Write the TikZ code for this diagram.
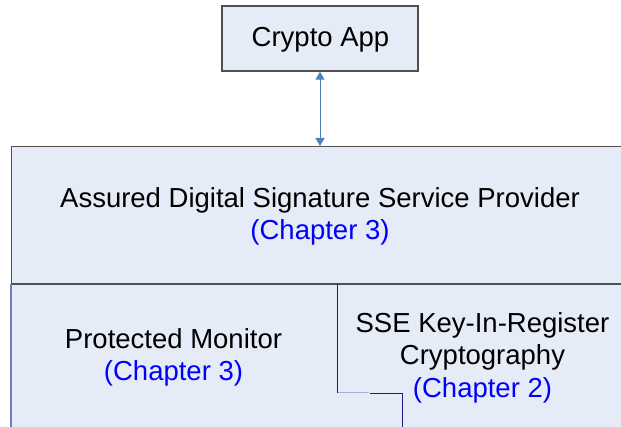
\documentclass[tikz,border=0pt]{standalone}
\usepackage{fontspec}
\setmainfont{Liberation Sans}
\usetikzlibrary{arrows.meta}
\definecolor{boxfill}{RGB}{230,236,247}
\definecolor{boxline}{RGB}{80,80,80}
\definecolor{arrowblue}{RGB}{79,129,189}
\definecolor{chapblue}{RGB}{0,0,255}
\definecolor{navyline}{RGB}{30,30,130}
\definecolor{lightnavy}{RGB}{165,175,225}
\definecolor{edgeblue}{RGB}{120,120,200}
\begin{document}
\begin{tikzpicture}[x=1pt,y=-1pt,
  lbl/.style={align=center, font=\fontsize{27.5}{32.5}\selectfont, inner sep=0pt, anchor=base},
  boxstyle/.style={draw=boxline, fill=boxfill, line width=1.4pt, inner sep=0pt},
  chap/.style={text=chapblue}]
\useasboundingbox (0,0) rectangle (621,427);
\clip (0,0) rectangle (621,427);
\fill[white] (0,0) rectangle (621,427);
% boxes
\node[boxstyle, minimum width=196pt, minimum height=65pt] (app) at (320,38.5) {};
\node[boxstyle, anchor=north west, minimum width=660pt, minimum height=320pt] (sp) at (11,146) {};
\coordinate (divL) at (11,284);
\coordinate (divR) at (680,284);
\draw[boxline, line width=1.4pt] (divL) -- (divR);
\coordinate (edgeB) at (11,440);
\draw[edgeblue, line width=1.4pt] (divL) -- (edgeB);
% partition between lower modules
\coordinate (p1) at (337.5,284);
\coordinate (p2) at (337.5,392.5);
\coordinate (p3) at (369,392.5);
\coordinate (p4) at (370,393.5);
\coordinate (p5) at (402.5,393.5);
\coordinate (p6) at (402.5,440);
\draw[navyline, line width=0.9pt] (p1) -- (p2);
\draw[lightnavy, line width=0.9pt] (p2) -- (p3);
\draw[navyline, line width=0.9pt] (p4) -- (p5) -- (p6);
% arrow
\draw[arrowblue, line width=0.9pt, {Triangle[length=8pt,width=9pt]}-{Triangle[length=8pt,width=9pt]}] (app.south) -- (app.south |- sp.north);
% labels
\node[lbl] (tapp) at (320.5,47) {Crypto App};
\node[lbl] (tsp) at (320,240) {Assured Digital Signature Service Provider\\\textcolor{chapblue}{(Chapter 3)}};
\node[lbl] (tpm) at (173.5,381) {Protected Monitor\\\textcolor{chapblue}{(Chapter 3)}};
\node[lbl] (tsse) at (482.5,397) {SSE Key-In-Register\\Cryptography\\\textcolor{chapblue}{(Chapter 2)}};
\end{tikzpicture}
\end{document}
